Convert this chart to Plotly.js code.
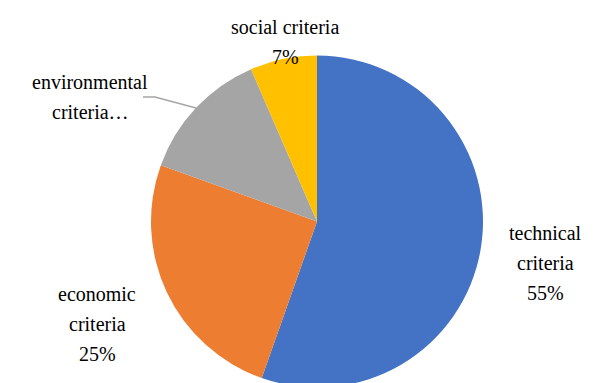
<!DOCTYPE html>
<html><head><meta charset="utf-8">
<script src="https://cdn.plot.ly/plotly-3.0.1.min.js"></script>
<style>html,body{margin:0;padding:0;background:#fff;overflow:hidden}</style>
</head><body><div id="chart" style="width:595px;height:390px"></div>
<script>
const categories = ["technical criteria", "economic criteria", "environmental criteria", "social criteria"];
const values = [55.4, 25.1, 13.0, 6.5];
const labelLines = [["technical", "criteria"], ["economic", "criteria"], ["environmental", "criteria…"], ["social criteria"]];
const showPercent = [true, true, false, true];
const colors = ["#4472C4", "#ED7D31", "#A5A5A5", "#FFC000"];

const W = 595, H = 390;
const fx = p => p / W, fy = p => 1 - p / H;
const labelPos = [[545, 263], [97, 324], [90, 97], [285, 42]];
const lineGap = 30;
const total = values.reduce((a, b) => a + b, 0);

const annotations = [];
labelLines.forEach((lines, i) => {
  const all = lines.concat(showPercent[i] ? [Math.round(values[i] / total * 100) + "%"] : []);
  all.forEach((ln, j) => {
    const py = labelPos[i][1] + (j - (all.length - 1) / 2) * lineGap;
    annotations.push({
      text: ln, xref: "paper", yref: "paper", x: fx(labelPos[i][0]), y: fy(py),
      xanchor: "center", yanchor: "middle", showarrow: false, align: "center",
      font: {family: "Liberation Serif", size: 20}
    });
  });
});

const data = [{
  type: "pie", labels: categories, values: values, sort: false, direction: "clockwise", rotation: 0,
  marker: {colors: colors, line: {width: 0}}, textinfo: "none", hoverinfo: "none",
  domain: {x: [fx(151), fx(483)], y: [fy(387.5), fy(55.5)]}, showlegend: false
}];

const layout = {
  width: W, height: H, margin: {l: 0, r: 0, t: 0, b: 0},
  paper_bgcolor: "#fff", plot_bgcolor: "#fff", showlegend: false,
  annotations: annotations,
  shapes: [{type: "path", xref: "paper", yref: "paper",
    path: `M ${fx(143)},${fy(97)} L ${fx(155)},${fy(97)} L ${fx(196)},${fy(108)}`,
    line: {color: "#A5A5A5", width: 1.3}}]
};
Plotly.newPlot("chart", data, layout, {staticPlot: true}).then(gd => {
  gd.querySelectorAll(".annotation-text").forEach(t => { t.style.fill = "#000"; });
});
</script></body></html>
